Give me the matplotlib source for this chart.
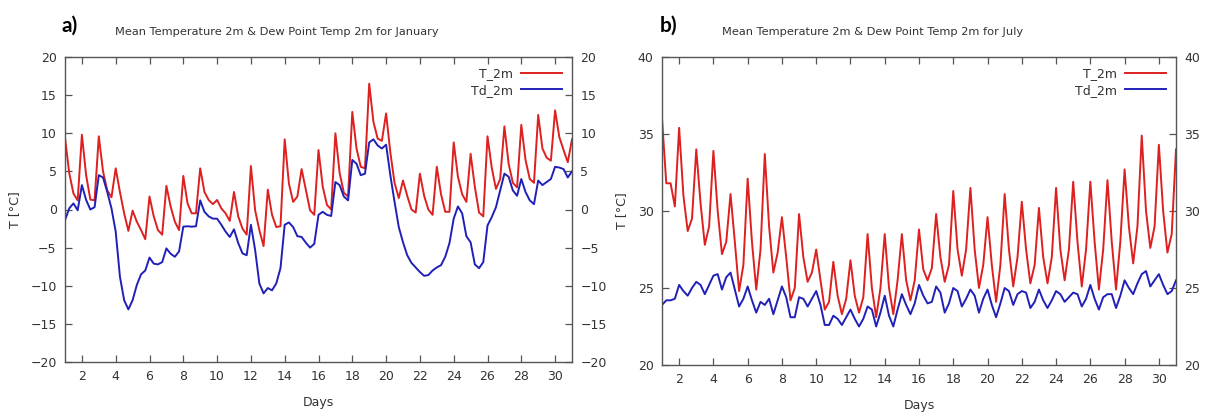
import numpy as np
import matplotlib
matplotlib.use("Agg")
import matplotlib.pyplot as plt

# 6-hourly time steps (days)
days = np.arange(1, 31.01, 0.25)
tick_days = list(range(2, 31, 2))

jan_t2m = [
    9.4, 4.8, 2.1, 1.2,   9.8, 4.5, 1.3, 1.2,   9.6, 5.0, 2.5, 1.6,   5.4, 2.3, -0.5, -2.8,
    -0.15, -1.6, -2.7, -3.9,   1.7, -0.9, -2.7, -3.3,   3.1, 0.4, -1.6, -2.7,   4.4, 0.8, -0.5, -0.5,
    5.4, 2.3, 1.25, 0.7,   1.25, 0.15, -0.5, -1.5,   2.3, -0.9, -2.5, -3.3,   5.7, -0.1, -2.7, -4.8,
    2.6, -0.7, -2.3, -2.2,   9.2, 3.4, 1.0, 1.7,   5.3, 2.6, -0.1, -0.7,   7.8, 3.0, 0.6, 0.0,
    10.0, 4.8, 2.2, 1.7,   12.8, 8.0, 5.6, 5.4,   16.5, 11.5, 9.3, 9.0,   12.6, 7.5, 3.5, 1.5,
    3.8, 1.8, 0.0, -0.4,   4.7, 1.8, 0.0, -0.7,   5.6, 2.0, -0.3, -0.3,   8.8, 4.3, 2.0, 1.0,
    7.3, 3.0, -0.4, -0.9,   9.6, 5.5, 2.7, 4.0,   10.9, 6.0, 3.5, 2.9,   11.1, 6.5, 4.0, 3.5,
    12.4, 8.0, 6.8, 6.4,   13.0, 9.5, 7.8, 6.2,   9.2,
]
jan_td2m = [
    -1.4, 0.15, 0.8, -0.1,   3.2, 1.25, 0.0, 0.3,   4.5, 4.2, 2.3, 0.15,   -2.9, -8.8, -11.9, -13.1,
    -11.9, -9.9, -8.5, -8.0,   -6.3, -7.1, -7.2, -6.9,   -5.1, -5.8, -6.2, -5.5,   -2.25, -2.2, -2.25, -2.2,
    1.2, -0.3, -0.9, -1.2,   -1.2, -2.0, -2.9, -3.6,   -2.6, -4.4, -5.75, -6.0,   -2.0, -5.3, -9.7, -11.0,
    -10.3, -10.6, -9.7, -7.7,   -2.0, -1.7, -2.3, -3.5,   -3.6, -4.35, -5.0, -4.5,   -0.7, -0.3, -0.7, -0.85,
    3.6, 3.2, 1.7, 1.2,   6.5, 6.0, 4.5, 4.7,   8.8, 9.2, 8.4, 8.0,   8.5, 4.5, 1.0, -2.3,
    -4.3, -6.0, -7.0, -7.6,   -8.2, -8.7, -8.6, -8.0,   -7.6, -7.3, -6.2, -4.4,   -1.2, 0.4, -0.5, -3.5,
    -4.3, -7.2, -7.7, -6.9,   -2.1, -1.0, 0.3, 2.5,   4.7, 4.3, 2.5, 1.8,   4.0, 2.3, 1.2, 0.7,
    3.8, 3.2, 3.6, 4.0,   5.6, 5.5, 5.3, 4.2,   5.0,
]
jul_t2m = [
    36.0, 31.8, 31.8, 30.3,   35.4, 31.0, 28.7, 29.5,   34.0, 30.5, 27.8, 29.0,   33.9, 30.0, 27.2, 28.0,
    31.1, 28.0, 24.8, 26.5,   32.1, 28.0, 24.9, 27.5,   33.7, 29.0, 26.0, 27.3,   29.6, 27.0, 24.2, 25.0,
    29.8, 27.0, 25.4, 26.0,   27.5, 25.5, 23.6, 24.1,   26.7, 24.5, 23.3, 24.3,   26.8, 24.5, 23.4, 24.4,
    28.5, 25.0, 23.1, 25.0,   28.5, 25.0, 23.3, 25.5,   28.5, 25.5, 24.2, 25.5,   28.8, 26.2, 25.5, 26.3,
    29.8, 27.0, 25.4, 26.5,   31.3, 27.5, 25.8, 27.5,   31.5, 27.5, 25.0, 26.5,   29.6, 26.5, 24.1, 26.5,
    31.1, 27.5, 25.1, 27.0,   30.6, 27.5, 25.3, 26.5,   30.2, 27.0, 25.3, 27.0,   31.5, 27.5, 25.5, 27.5,
    31.9, 28.0, 25.1, 27.5,   31.9, 28.0, 24.9, 27.5,   32.0, 28.0, 24.9, 28.0,   32.7, 29.0, 26.6, 29.0,
    34.9, 30.0, 27.6, 29.0,   34.3, 30.0, 27.3, 28.5,   34.0,
]
jul_td2m = [
    23.9, 24.2, 24.2, 24.3,   25.2, 24.8, 24.5, 25.0,   25.4, 25.2, 24.6, 25.2,   25.8, 25.9, 24.9, 25.7,
    26.0, 24.9, 23.8, 24.3,   25.1, 24.2, 23.4, 24.1,   23.9, 24.3, 23.3, 24.2,   25.1, 24.4, 23.1, 23.1,
    24.4, 24.3, 23.8, 24.3,   24.8, 23.9, 22.6, 22.6,   23.2, 23.0, 22.6, 23.1,   23.6, 23.0, 22.5, 23.0,
    23.8, 23.6, 22.5, 23.4,   24.5, 23.2, 22.5, 23.6,   24.6, 23.9, 23.3, 24.0,   25.2, 24.5, 24.0, 24.1,
    25.1, 24.7, 23.4, 24.0,   25.0, 24.8, 23.8, 24.3,   24.9, 24.5, 23.4, 24.3,   24.9, 23.9, 23.1, 24.0,
    25.0, 24.8, 23.9, 24.6,   24.8, 24.7, 23.7, 24.1,   24.9, 24.2, 23.7, 24.2,   24.8, 24.6, 24.1, 24.4,
    24.7, 24.6, 23.8, 24.3,   25.2, 24.3, 23.6, 24.4,   24.6, 24.6, 23.7, 24.5,   25.5, 25.0, 24.6, 25.3,
    25.9, 26.1, 25.1, 25.5,   25.9, 25.2, 24.6, 24.8,   25.5,
]

RED = "#dd2020"
BLUE = "#2020b8"
FRAME = "#555555"
TXT = "#333333"

fig = plt.figure(figsize=(12.11, 4.16), dpi=100)
W, H = 1211, 416

def make_ax(l, r, t, b):
    return fig.add_axes([l / W, 1 - b / H, (r - l) / W, (b - t) / H])

panels = [
    (make_ax(65, 572, 57, 362), jan_t2m, jan_td2m, (-20, 20),
     "Mean Temperature 2m & Dew Point Temp 2m for January", 277, "a)", 70),
    (make_ax(662, 1176, 57, 365), jul_t2m, jul_td2m, (20, 40),
     "Mean Temperature 2m & Dew Point Temp 2m for July", 873, "b)", 669),
]

for ax, t, td, ylim, title, tx, lab, lx in panels:
    ax.plot(days, t, color=RED, lw=1.4, label="T_2m")
    ax.plot(days, td, color=BLUE, lw=1.4, label="Td_2m")
    ax.set_xlim(1, 31)
    ax.set_ylim(*ylim)
    ax.set_xticks(tick_days)
    ax.set_yticks(np.arange(ylim[0], ylim[1] + 1, 5))
    ax.tick_params(direction="in", length=5, width=0.9, colors=FRAME,
                   labelcolor=TXT, labelsize=9, top=True, right=True,
                   labelright=True, pad=6)
    for s in ax.spines.values():
        s.set_color(FRAME)
        s.set_linewidth(1.0)
    ax.set_xlabel("Days", fontsize=9, color=TXT, labelpad=9)
    ax.set_ylabel("T [°C]", fontsize=9, color=TXT, labelpad=7)
    leg = ax.legend(loc="upper right", frameon=False, markerfirst=False,
                    fontsize=9, handlelength=3.3, handletextpad=0.6,
                    labelspacing=0.3, borderaxespad=0.4)
    for txt in leg.get_texts():
        txt.set_color(TXT)
    fig.text(tx / W, 1 - 32 / H, title, ha="center", va="center",
             fontsize=8.2, color=TXT)
    fig.text(lx / W, 1 - 26 / H, lab, ha="center", va="center",
             fontsize=15, fontweight="bold", family="Lato", color="black")

fig.savefig("out.png", dpi=100)
